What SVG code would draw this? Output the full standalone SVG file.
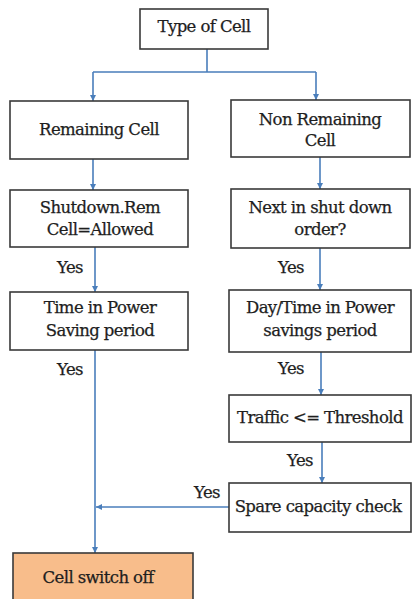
<svg xmlns="http://www.w3.org/2000/svg" width="412" height="599" viewBox="0 0 412 599">
<style>
.box{fill:#fff;stroke:#3a3a3a;stroke-width:1.6}
.off{fill:#f8bd8b;stroke:#3a3a3a;stroke-width:1.6}
text{font-family:"DejaVu Serif",serif;font-size:16.5px;letter-spacing:-0.6px;fill:#1e1e1e;stroke:#1e1e1e;stroke-width:0.25;text-anchor:middle}
.c{fill:none;stroke:#4a7ebb;stroke-width:1.6}
</style>
<defs>
<marker id="ah" viewBox="0 0 10 10" refX="10" refY="5" markerWidth="6" markerHeight="6" markerUnits="userSpaceOnUse" orient="auto">
<path d="M0,0 L10,5 L0,10 z" fill="#4a7ebb"/>
</marker>
</defs>
<rect width="412" height="599" fill="#fff"/>
<g id="connectors">
<path class="c" d="M207,49 V72 M93,72 H316"/>
<path class="c" d="M93,72 V101" marker-end="url(#ah)"/>
<path class="c" d="M316,72 V100" marker-end="url(#ah)"/>
<path class="c" d="M93,159 V190" marker-end="url(#ah)"/>
<path class="c" d="M320,157 V189" marker-end="url(#ah)"/>
<path class="c" d="M95,247 V292" marker-end="url(#ah)"/>
<path class="c" d="M320,248 V290" marker-end="url(#ah)"/>
<path class="c" d="M95,350 V553" marker-end="url(#ah)"/>
<path class="c" d="M321,352 V395" marker-end="url(#ah)"/>
<path class="c" d="M322,442 V483" marker-end="url(#ah)"/>
<path class="c" d="M229,507 H96" marker-end="url(#ah)"/>
<text x="70" y="273">Yes</text>
<text x="291" y="273">Yes</text>
<text x="70" y="375">Yes</text>
<text x="291" y="374">Yes</text>
<text x="300" y="466">Yes</text>
<text x="207" y="498">Yes</text>
</g>
<g id="type">
<rect class="box" x="140" y="9" width="128" height="40"/>
<text x="204" y="32">Type of Cell</text>
</g>
<g id="remaining">
<rect class="box" x="10" y="101" width="178" height="58"/>
<text x="99" y="135">Remaining Cell</text>
</g>
<g id="nonremaining">
<rect class="box" x="231" y="100" width="179" height="57"/>
<text x="320" y="125">Non Remaining</text>
<text x="320" y="146">Cell</text>
</g>
<g id="shutdown">
<rect class="box" x="10" y="190" width="178" height="57"/>
<text x="100" y="213">Shutdown.Rem</text>
<text x="100" y="235">Cell=Allowed</text>
</g>
<g id="nextin">
<rect class="box" x="231" y="189" width="179" height="59"/>
<text x="320" y="213">Next in shut down</text>
<text x="320" y="235">order?</text>
</g>
<g id="timein">
<rect class="box" x="10" y="292" width="178" height="58"/>
<text x="100" y="313">Time in Power</text>
<text x="100" y="336">Saving period</text>
</g>
<g id="daytime">
<rect class="box" x="229" y="290" width="182" height="62"/>
<text x="320" y="313">Day/Time in Power</text>
<text x="320" y="336">savings period</text>
</g>
<g id="traffic">
<rect class="box" x="229" y="395" width="182" height="47"/>
<text x="320" y="423">Traffic &lt;= Threshold</text>
</g>
<g id="spare">
<rect class="box" x="229" y="483" width="182" height="49"/>
<text x="318" y="512">Spare capacity check</text>
</g>
<g id="switchoff">
<rect class="off" x="13" y="553" width="180" height="60"/>
<text x="98" y="583">Cell switch off</text>
</g>
</svg>
